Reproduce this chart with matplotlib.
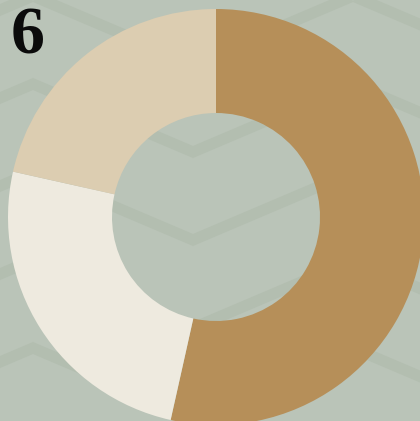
import matplotlib
matplotlib.use("Agg")
import matplotlib.pyplot as plt
import numpy as np

BG = "#bac4b8"
BAND = "#b3beb0"
INK = "#0b0b0b"

# slice shares, clockwise from 12 o'clock
labels = ["A", "B", "C"]
values = [53.5, 25.0, 21.5]
colors = ["#b68f59", "#eeeadf", "#dccdb1"]

W, H = 420, 421
fig = plt.figure(figsize=(W / 100, H / 100), dpi=100)
fig.patch.set_facecolor(BG)
ax = fig.add_axes([0, 0, 1, 1])
ax.set_facecolor(BG)

# chevron background pattern (pixel coords, y measured from top)
xs = np.array([-127, 33, 193, 353, 513])
for n in range(-1, 7):
    peak = -4 + 88 * n
    ys = np.array([peak + 68, peak, peak + 68, peak, peak + 68])
    ax.plot(xs, H - ys, color=BAND, linewidth=8, solid_joinstyle="miter", zorder=0)

ax.pie(values, colors=colors, startangle=90, counterclock=False,
       radius=208, center=(216, H - 217),
       wedgeprops=dict(width=104, linewidth=0, antialiased=True), frame=True)

ax.set_xlim(0, W)
ax.set_ylim(0, H)
ax.set_aspect("auto")
ax.axis("off")

fig.text(11 / W, 1 - 53 / H, "6", fontsize=49, fontweight="bold",
         family="Liberation Serif", color=INK, ha="left", va="baseline")

fig.savefig("out.png", dpi=100, facecolor=BG)
